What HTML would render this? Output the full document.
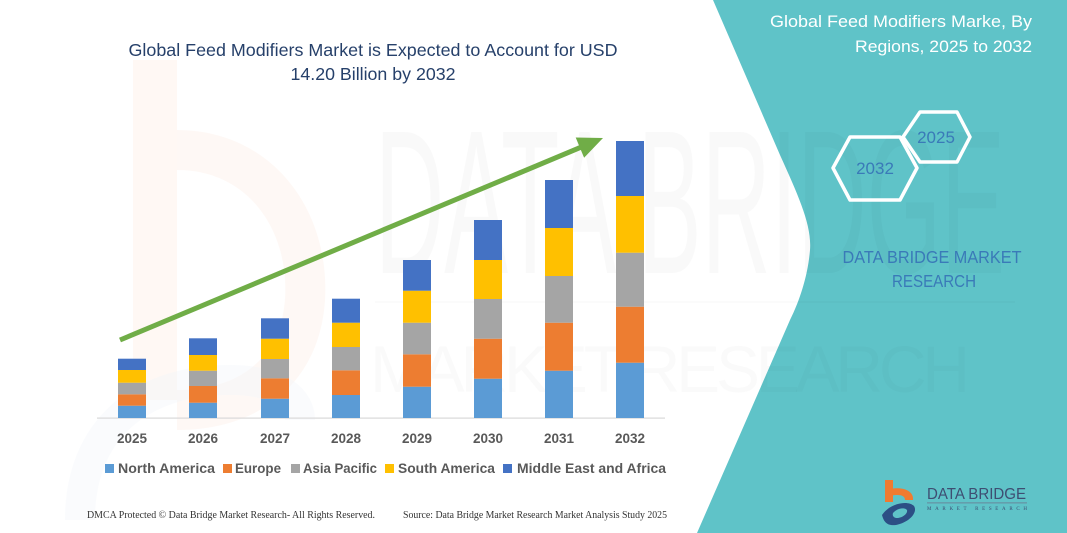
<!DOCTYPE html>
<html>
<head>
<meta charset="utf-8">
<style>
html,body{margin:0;padding:0;background:#fff;}
body{width:1067px;height:533px;overflow:hidden;position:relative;}
svg{display:block;position:absolute;left:0;top:0;}
</style>
</head>
<body>
<svg width="1067" height="533" viewBox="0 0 1067 533" xmlns="http://www.w3.org/2000/svg">
  <defs>
    <clipPath id="frame"><rect x="0" y="0" width="1067" height="533"/></clipPath>
  </defs>
  <g clip-path="url(#frame)">
  <rect x="0" y="0" width="1067" height="533" fill="#ffffff"/>

  <!-- faint left logo watermark -->
  <g opacity="0.45">
    <rect x="133" y="60" width="44" height="340" fill="#fde4d6" opacity="0.6"/>
    <path d="M177,150 C260,150 310,220 305,300 C300,370 250,410 177,410" fill="none" stroke="#fde4d6" stroke-width="40" opacity="0.5"/>
    <path d="M80,520 C80,430 140,380 230,380 C280,380 300,400 300,420" fill="none" stroke="#e3ebf5" stroke-width="30" opacity="0.4"/>
  </g>

  <!-- teal right panel -->
  <path d="M713,0 L1067,0 L1067,533 L697,533 L790,320 C800,300 808,275 810,250 C812,225 798,195 780,155 Z" fill="#5fc3c8"/>

  <!-- faint big watermark text -->
  <text x="375" y="273" font-family="Liberation Sans, sans-serif" font-size="205" fill="#000" fill-opacity="0.025" textLength="630" lengthAdjust="spacingAndGlyphs">DATA BRIDGE</text>
  <rect x="375" y="301" width="640" height="2" fill="#000" fill-opacity="0.015"/>
  <text x="370" y="392" font-family="Liberation Sans, sans-serif" font-size="66" fill="#000" fill-opacity="0.018" textLength="600" lengthAdjust="spacing">MARKET RESEARCH</text>

  <!-- chart title -->
  <text x="373" y="56" text-anchor="middle" font-family="Liberation Sans, sans-serif" font-size="17.5" fill="#26406a" textLength="489" lengthAdjust="spacingAndGlyphs">Global Feed Modifiers Market is Expected to Account for USD</text>
  <text x="373" y="80" text-anchor="middle" font-family="Liberation Sans, sans-serif" font-size="17.5" fill="#26406a" textLength="165" lengthAdjust="spacingAndGlyphs">14.20 Billion by 2032</text>

  <!-- baseline -->
  <rect x="97" y="417.5" width="568" height="1.2" fill="#d9d9d9"/>

  <!-- bars -->
  <g>
    <!-- 2025 -->
    <rect x="118" y="405.7" width="28" height="12.3" fill="#5b9bd5"/>
    <rect x="118" y="394.3" width="28" height="11.4" fill="#ed7d31"/>
    <rect x="118" y="382.7" width="28" height="11.6" fill="#a5a5a5"/>
    <rect x="118" y="370" width="28" height="12.7" fill="#ffc000"/>
    <rect x="118" y="358.7" width="28" height="11.3" fill="#4472c4"/>
    <!-- 2026 -->
    <rect x="189" y="402.7" width="28" height="15.3" fill="#5b9bd5"/>
    <rect x="189" y="386" width="28" height="16.7" fill="#ed7d31"/>
    <rect x="189" y="370.7" width="28" height="15.3" fill="#a5a5a5"/>
    <rect x="189" y="355" width="28" height="15.7" fill="#ffc000"/>
    <rect x="189" y="338.3" width="28" height="16.7" fill="#4472c4"/>
    <!-- 2027 -->
    <rect x="261" y="398.7" width="28" height="19.3" fill="#5b9bd5"/>
    <rect x="261" y="378.3" width="28" height="20.4" fill="#ed7d31"/>
    <rect x="261" y="359" width="28" height="19.3" fill="#a5a5a5"/>
    <rect x="261" y="338.7" width="28" height="20.3" fill="#ffc000"/>
    <rect x="261" y="318.3" width="28" height="20.4" fill="#4472c4"/>
    <!-- 2028 -->
    <rect x="332" y="395" width="28" height="23" fill="#5b9bd5"/>
    <rect x="332" y="370.3" width="28" height="24.7" fill="#ed7d31"/>
    <rect x="332" y="347" width="28" height="23.3" fill="#a5a5a5"/>
    <rect x="332" y="322.7" width="28" height="24.3" fill="#ffc000"/>
    <rect x="332" y="298.7" width="28" height="24" fill="#4472c4"/>
    <!-- 2029 -->
    <rect x="403" y="386.7" width="28" height="31.3" fill="#5b9bd5"/>
    <rect x="403" y="354.3" width="28" height="32.4" fill="#ed7d31"/>
    <rect x="403" y="322.7" width="28" height="31.6" fill="#a5a5a5"/>
    <rect x="403" y="290.7" width="28" height="32" fill="#ffc000"/>
    <rect x="403" y="260" width="28" height="30.7" fill="#4472c4"/>
    <!-- 2030 -->
    <rect x="474" y="378.7" width="28" height="39.3" fill="#5b9bd5"/>
    <rect x="474" y="338.7" width="28" height="40" fill="#ed7d31"/>
    <rect x="474" y="299" width="28" height="39.7" fill="#a5a5a5"/>
    <rect x="474" y="260" width="28" height="39" fill="#ffc000"/>
    <rect x="474" y="220" width="28" height="40" fill="#4472c4"/>
    <!-- 2031 -->
    <rect x="545" y="370.7" width="28" height="47.3" fill="#5b9bd5"/>
    <rect x="545" y="322.7" width="28" height="48" fill="#ed7d31"/>
    <rect x="545" y="276" width="28" height="46.7" fill="#a5a5a5"/>
    <rect x="545" y="228" width="28" height="48" fill="#ffc000"/>
    <rect x="545" y="180" width="28" height="48" fill="#4472c4"/>
    <!-- 2032 -->
    <rect x="616" y="362.7" width="28" height="55.3" fill="#5b9bd5"/>
    <rect x="616" y="306.7" width="28" height="56" fill="#ed7d31"/>
    <rect x="616" y="252.7" width="28" height="54" fill="#a5a5a5"/>
    <rect x="616" y="196" width="28" height="56.7" fill="#ffc000"/>
    <rect x="616" y="141" width="28" height="55" fill="#4472c4"/>
  </g>

  <!-- growth arrow -->
  <line x1="120" y1="340" x2="581" y2="147.2" stroke="#70ad47" stroke-width="5"/>
  <polygon points="603,138 584.1,157.7 575.7,137.5" fill="#70ad47"/>

  <!-- year labels -->
  <g font-family="Liberation Sans, sans-serif" font-size="13.5" font-weight="bold" fill="#595959" text-anchor="middle">
    <text x="132" y="443">2025</text>
    <text x="203" y="443">2026</text>
    <text x="275" y="443">2027</text>
    <text x="346" y="443">2028</text>
    <text x="417" y="443">2029</text>
    <text x="488" y="443">2030</text>
    <text x="559" y="443">2031</text>
    <text x="630" y="443">2032</text>
  </g>

  <!-- legend -->
  <g font-family="Liberation Sans, sans-serif" font-size="13.5" font-weight="bold" fill="#595959">
    <rect x="105" y="464" width="9" height="9" fill="#5b9bd5"/>
    <text x="118" y="473" textLength="97" lengthAdjust="spacingAndGlyphs">North America</text>
    <rect x="223" y="464" width="9" height="9" fill="#ed7d31"/>
    <text x="235" y="473" textLength="46" lengthAdjust="spacingAndGlyphs">Europe</text>
    <rect x="291" y="464" width="9" height="9" fill="#a5a5a5"/>
    <text x="303" y="473" textLength="74" lengthAdjust="spacingAndGlyphs">Asia Pacific</text>
    <rect x="385" y="464" width="9" height="9" fill="#ffc000"/>
    <text x="398" y="473" textLength="97" lengthAdjust="spacingAndGlyphs">South America</text>
    <rect x="503" y="464" width="9" height="9" fill="#4472c4"/>
    <text x="517" y="473" textLength="149" lengthAdjust="spacingAndGlyphs">Middle East and Africa</text>
  </g>

  <!-- footer -->
  <g font-family="Liberation Serif, serif" font-size="10" fill="#333">
    <text x="87" y="518" textLength="288" lengthAdjust="spacingAndGlyphs">DMCA Protected © Data Bridge Market Research-  All Rights Reserved.</text>
    <text x="403" y="518" textLength="264" lengthAdjust="spacingAndGlyphs">Source:  Data Bridge Market Research  Market Analysis Study 2025</text>
  </g>

  <!-- right panel title -->
  <g font-family="Liberation Sans, sans-serif" font-size="17" fill="#ffffff" text-anchor="end">
    <text x="1032" y="27" textLength="262" lengthAdjust="spacingAndGlyphs">Global Feed Modifiers Marke, By</text>
    <text x="1032" y="52" textLength="177" lengthAdjust="spacingAndGlyphs">Regions, 2025 to 2032</text>
  </g>

  <!-- hexagons -->
  <polygon points="903,137 920,112 957,112 970,137 957,162 920,162" fill="none" stroke="#ffffff" stroke-width="3.5" stroke-linejoin="round"/>
  <polygon points="833,168 850,137 900,137 917,168 900,200 850,200" fill="none" stroke="#ffffff" stroke-width="3.5" stroke-linejoin="round"/>
  <g font-family="Liberation Sans, sans-serif" font-size="17" fill="#3a7ab8" text-anchor="middle">
    <text x="936" y="143">2025</text>
    <text x="875" y="174">2032</text>
  </g>

  <!-- DATA BRIDGE MARKET RESEARCH -->
  <g font-family="Liberation Sans, sans-serif" font-size="17.5" fill="#3a7ab8" text-anchor="middle">
    <text x="932" y="263" textLength="179" lengthAdjust="spacingAndGlyphs">DATA BRIDGE MARKET</text>
    <text x="934" y="287" textLength="84" lengthAdjust="spacingAndGlyphs">RESEARCH</text>
  </g>

  <!-- bottom-right logo -->
  <g>
    <rect x="885" y="480" width="8" height="22" fill="#f07b30"/>
    <path d="M889,489 C905,486 914,492 913,500 L905,500 C905,495 899,494 889,496 Z" fill="#f07b30"/>
    <path d="M882,515 C890,503 908,500 914,506 C918,512 910,522 896,525 C888,526 884,523 882,515 Z M893,513 C897,508 905,507 907,510 C908,514 902,518 897,518 C894,518 892,516 893,513 Z" fill="#2c4f85" fill-rule="evenodd"/>
    <text x="927" y="499" font-family="Liberation Sans, sans-serif" font-size="16" fill="#3e4e72" textLength="99" lengthAdjust="spacingAndGlyphs">DATA BRIDGE</text>
    <rect x="927" y="502.5" width="100" height="0.8" fill="#6a7a90"/>
    <text x="927" y="510" font-family="Liberation Serif, serif" font-size="5" fill="#3e4e72" textLength="100" lengthAdjust="spacing">MARKET   RESEARCH</text>
  </g>
  </g>
</svg>
</body>
</html>
